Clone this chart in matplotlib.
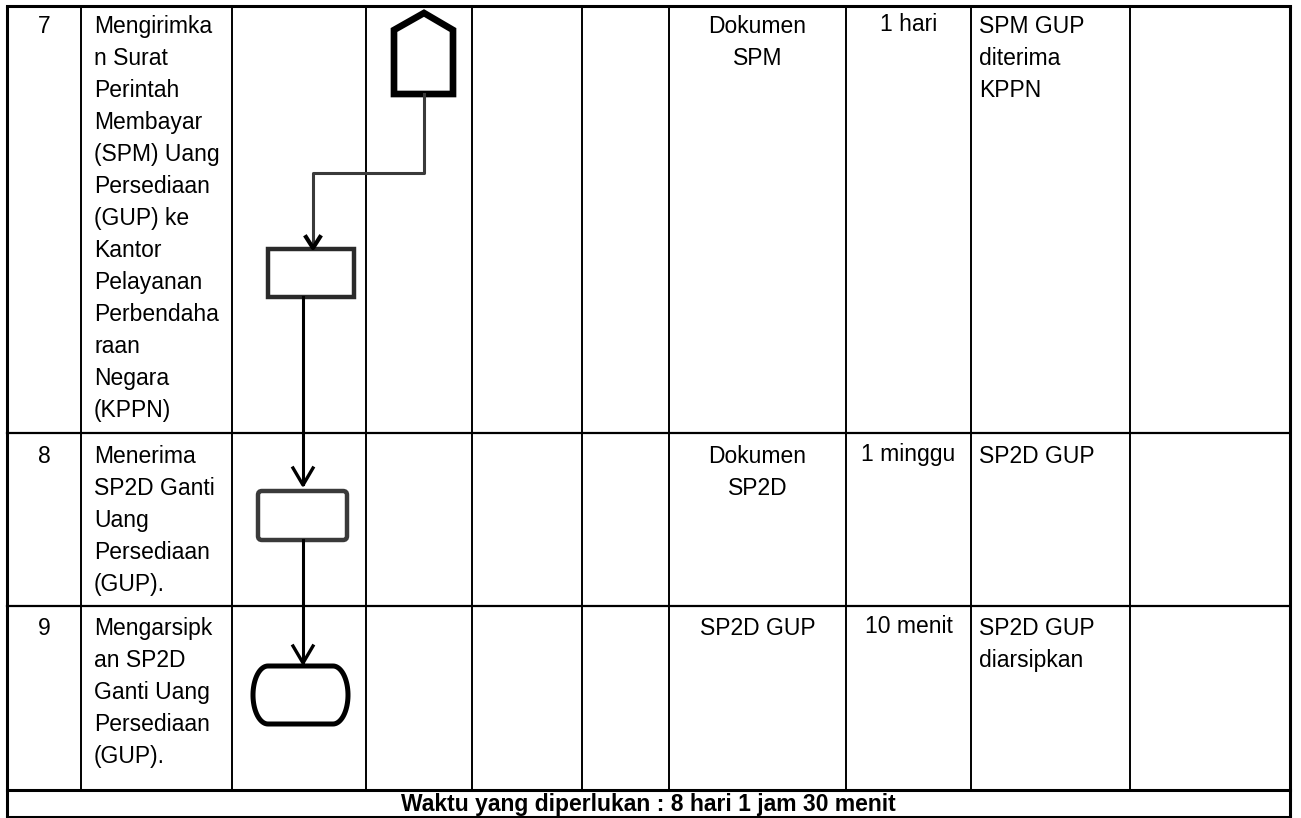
import matplotlib.pyplot as plt
import numpy as np
from matplotlib.patches import Polygon, Rectangle, FancyBboxPatch

plt.rcParams["font.family"] = ["Liberation Sans", "DejaVu Sans"]

# table content
step_no = ["7", "8", "9"]
activity = [
    ["Mengirimka", "n Surat", "Perintah", "Membayar", "(SPM) Uang", "Persediaan",
     "(GUP) ke", "Kantor", "Pelayanan", "Perbendaha", "raan", "Negara", "(KPPN)"],
    ["Menerima", "SP2D Ganti", "Uang", "Persediaan", "(GUP)."],
    ["Mengarsipk", "an SP2D", "Ganti Uang", "Persediaan", "(GUP)."],
]
kelengkapan = [["Dokumen", "SPM"], ["Dokumen", "SP2D"], ["SP2D GUP"]]
waktu = ["1 hari", "1 minggu", "10 menit"]
output = [["SPM GUP", "diterima", "KPPN"], ["SP2D GUP"], ["SP2D GUP", "diarsipkan"]]
total_text = "Waktu yang diperlukan : 8 hari 1 jam 30 menit"

# layout in pixels
W, H = 1301, 818
col_x = [7, 81, 232, 366, 472, 582, 669, 846, 971, 1130, 1290]
row_y = [6, 433, 606, 790, 817]
line_h = 32
first_base = [27, 30, 29]
fs = 16.5

fig = plt.figure(figsize=(W / 100, H / 100), dpi=100)
ax = fig.add_axes([0, 0, 1, 1])
ax.set_xlim(0, W)
ax.set_ylim(H, 0)
ax.axis("off")

# grid lines
for i, x in enumerate(col_x):
    outer = i in (0, len(col_x) - 1)
    bottom = row_y[-1] if outer else row_y[-2]
    ax.plot([x, x], [row_y[0], bottom], color="black", lw=2.2 if outer else 1.4,
            solid_capstyle="butt")
for j, y in enumerate(row_y):
    thick = j in (0, len(row_y) - 2, len(row_y) - 1)
    ax.plot([col_x[0], col_x[-1]], [y, y], color="black", lw=2.2 if thick else 1.6,
            solid_capstyle="projecting")


def put_lines(lines, x, y0, ha):
    for k, s in enumerate(lines):
        ax.text(x, y0 + k * line_h, s, ha=ha, va="baseline", fontsize=fs)


for r in range(3):
    top = row_y[r] + first_base[r]
    ax.text((col_x[0] + col_x[1]) / 2, top, step_no[r], ha="center", va="baseline", fontsize=fs)
    put_lines(activity[r], col_x[1] + 13, top, "left")
    put_lines(kelengkapan[r], (col_x[6] + col_x[7]) / 2, top, "center")
    put_lines([waktu[r]], (col_x[7] + col_x[8]) / 2, top - 2, "center")
    put_lines(output[r], col_x[8] + 8, top, "left")

ax.text((col_x[0] + col_x[-1]) / 2, (row_y[3] + row_y[4]) / 2 + 1, total_text,
        ha="center", va="center", fontsize=fs, fontweight="bold")

# flowchart symbols
ax.add_patch(Polygon([(394, 94), (394, 30), (424, 13), (453, 30), (453, 94)],
                     closed=True, fill=False, ec="black", lw=4.8, joinstyle="miter"))
ax.plot([424, 424, 313, 313], [94, 173, 173, 247], color="#3a3a3a", lw=2.2)
ax.plot([306, 313, 320], [237, 248, 237], color="black", lw=3)

ax.add_patch(Rectangle((268, 249), 86, 48, fill=False, ec="#2a2a2a", lw=3.2))
ax.plot([303, 303], [297, 484], color="black", lw=2.2)
ax.plot([293, 303, 313], [468, 485, 468], color="black", lw=2.4)

ax.add_patch(FancyBboxPatch((258, 491), 89, 49, boxstyle="round,pad=0,rounding_size=4",
                            fill=False, ec="#3a3a3a", lw=3.2))
ax.plot([303, 303], [540, 662], color="black", lw=2.2)
ax.plot([293, 303, 313], [646, 663, 646], color="black", lw=2.4)

# terminator: flat top/bottom, elliptic ends
t_left, t_right, t_top, t_bot, rx = 253, 348, 666, 724, 15
cy, ry = (t_top + t_bot) / 2, (t_bot - t_top) / 2
a = np.linspace(-np.pi / 2, np.pi / 2, 40)
right_end = np.column_stack([t_right - rx + rx * np.cos(a), cy + ry * np.sin(a)])
left_end = np.column_stack([t_left + rx - rx * np.cos(a), cy - ry * np.sin(a)])
ax.add_patch(Polygon(np.vstack([right_end, left_end]), closed=True, fill=False,
                     ec="black", lw=3.6))

fig.savefig("out.png", dpi=100)
plt.close(fig)
